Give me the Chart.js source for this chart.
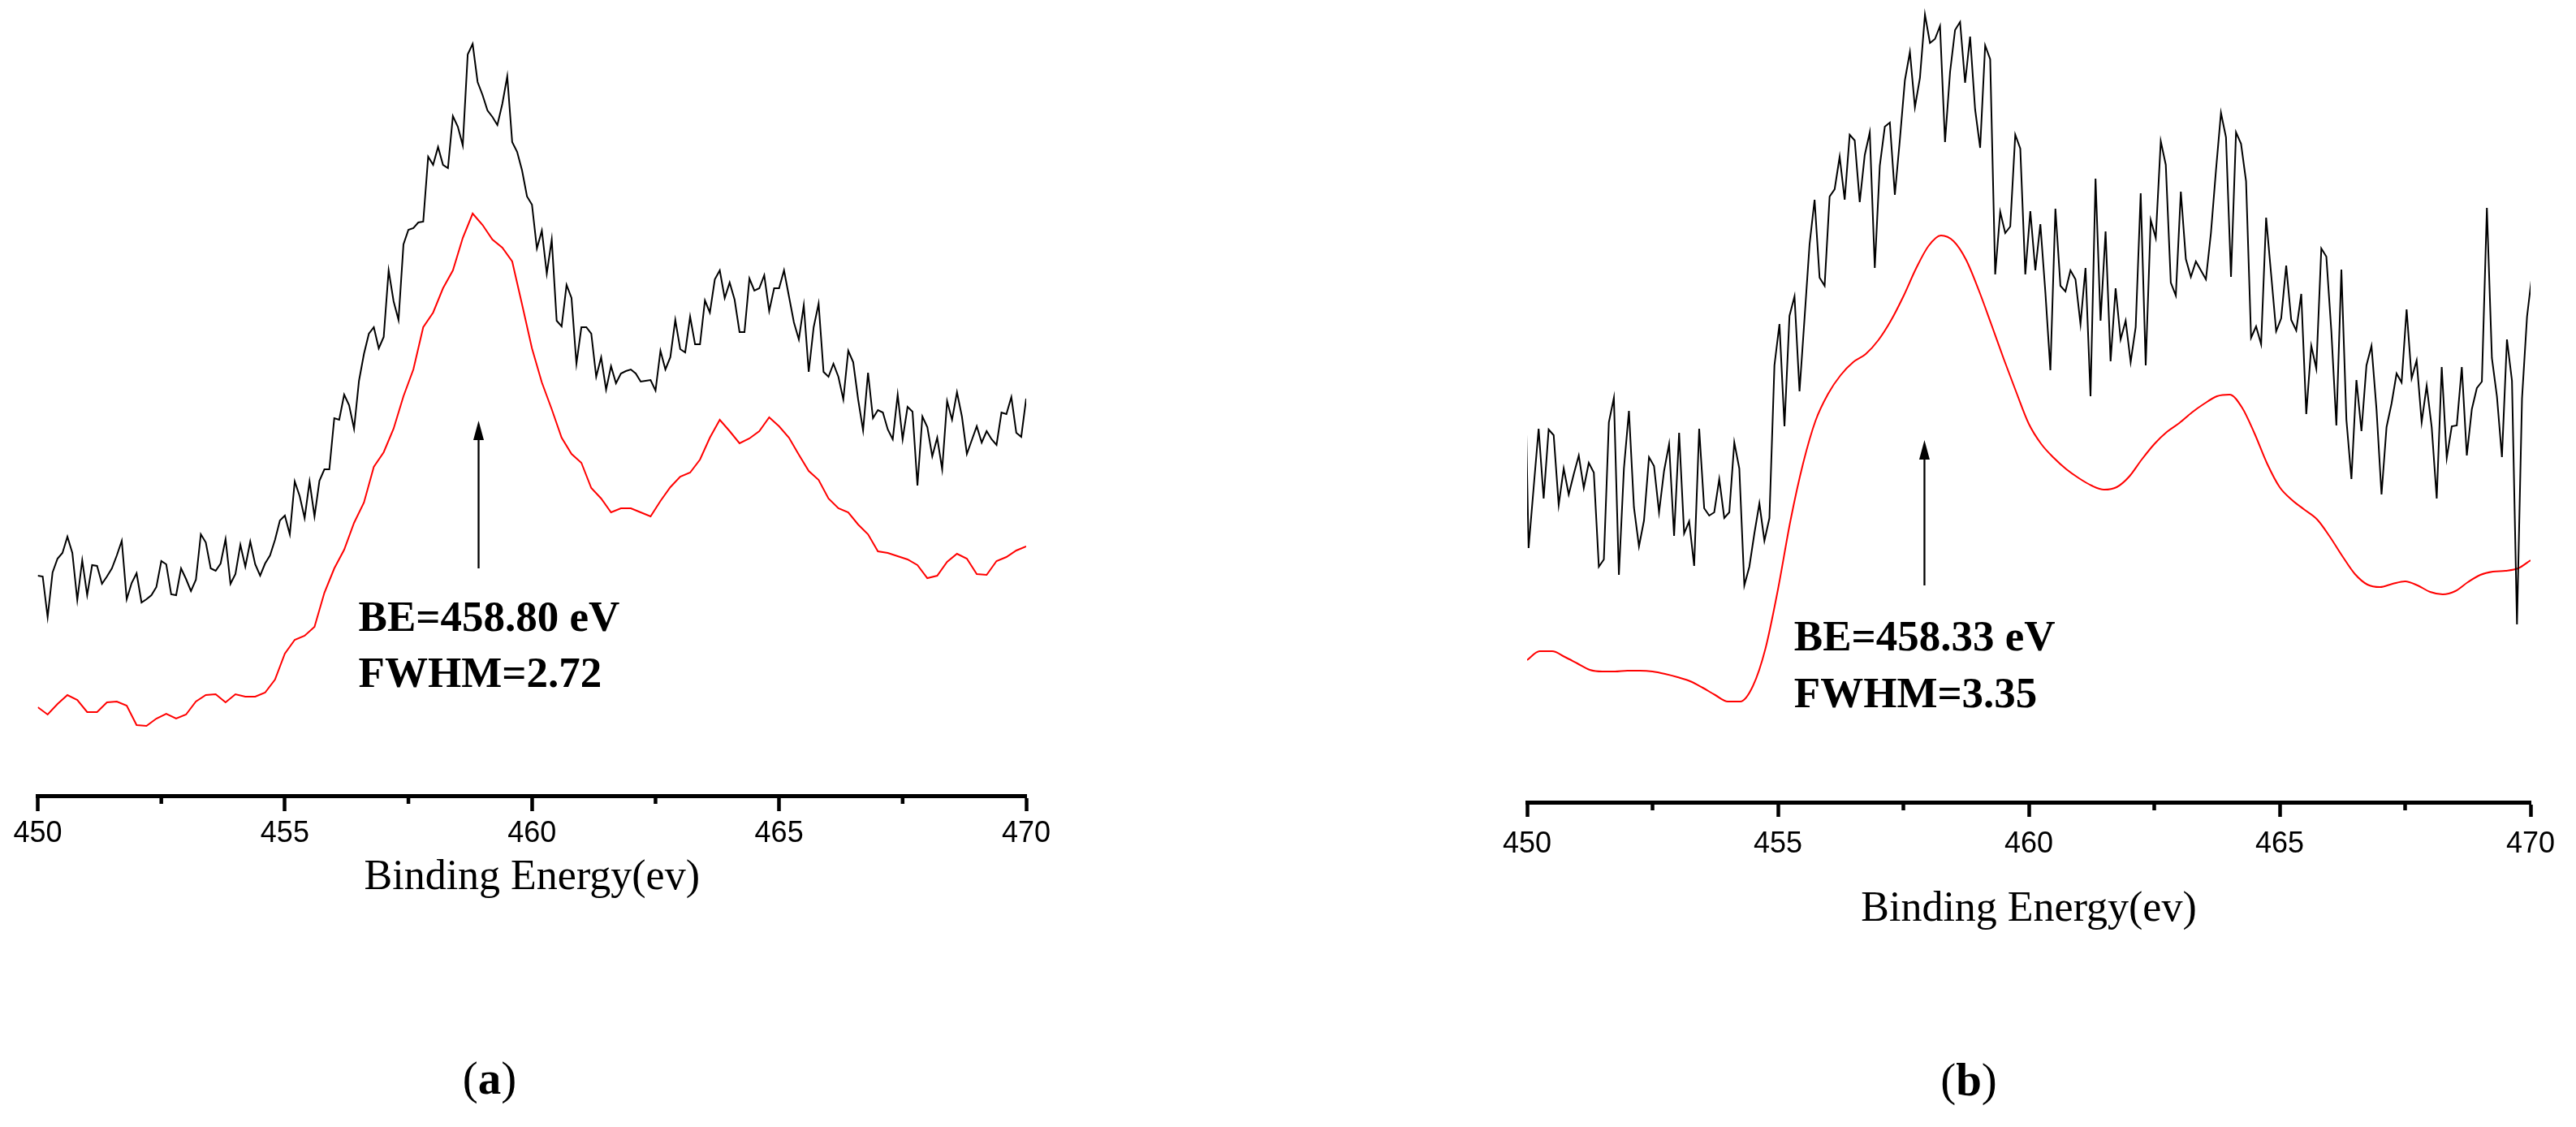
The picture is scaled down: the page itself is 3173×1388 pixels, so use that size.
<!DOCTYPE html>
<html>
<head>
<meta charset="utf-8">
<script src="https://cdn.jsdelivr.net/npm/chart.js@4.4.1/dist/chart.umd.min.js"></script>
<style>
  body { margin: 0; background: #fff; width: 3173px; height: 1388px; position: relative; overflow: hidden; }
  canvas { position: absolute; top: 0; }
  #chartA { left: 0; }
  #chartB { left: 1800px; }
  .panel-label { position: absolute; font-family: "Liberation Serif", serif; font-size: 57px; line-height: 1; transform: translate(-50%, -50%); color: #000; }
</style>
</head>
<body>
<canvas id="chartA" width="1330" height="1130"></canvas>
<canvas id="chartB" width="1373" height="1172"></canvas>
<div class="panel-label" style="left:603px; top:1327px;">(<b>a</b>)</div>
<div class="panel-label" style="left:2425px; top:1329px;">(<b>b</b>)</div>
<script>
// x axis
const tickValues = [450, 455, 460, 465, 470];
const minorTicks = [452.5, 457.5, 462.5, 467.5];

// intensities in a.u. (height above the axis)
// (a) raw spectrum, 450.0 -> 470.0 eV, 0.1 eV step
const rawAStart = 450.0, rawAStep = 0.1;
const rawA = [
  271,270,220,275,292,299,319,299,241,290,
  247,284,283,261,270,280,296,314,242,262,
  274,238,242,247,257,289,285,248,247,280,
  267,252,266,322,312,280,277,286,316,261,
  273,309,282,313,285,271,286,296,315,339,
  345,322,387,369,342,387,344,388,402,402,
  465,463,494,481,452,511,544,569,577,
  551,565,647,609,586,679,697,699,706,707,
  787,777,799,777,773,837,824,801,913,926,
  879,863,844,836,826,852,886,805,793,770,
  738,728,674,696,643,685,585,578,629,613,
  532,577,577,569,516,540,500,529,508,520,
  523,525,520,510,511,512,499,548,525,540,
  586,550,546,590,556,556,610,
  595,636,647,613,632,611,571,571,637,622,
  625,641,597,625,625,647,615,583,562,604,
  522,577,606,522,516,532,516,488,548,534,
  488,450,521,465,475,472,451,439,494,439,
  479,473,382,467,454,418,441,402,486,463,
  497,467,421,438,455,435,449,439,432,472,
  470,491,447,442,489
];
// (a) smoothed spectrum, 0.2 eV step
const smoothAStart = 450.0, smoothAStep = 0.2;
const smoothA = [
  109,100,113,124,118,103,103,115,116,111,
  87,86,95,101,95,100,116,124,125,115,
  125,122,122,127,143,175,192,197,208,250,
  280,303,336,361,
  405,423,452,492,525,577,595,625,647,687,
  717,703,685,675,658,605,551,509,476,441,
  421,410,379,366,349,354,354,349,344,363,
  380,393,398,414,
  441,463,449,434,440,449,466,455,441,420,
  400,389,366,354,349,334,322,301,299,295,
  291,284,268,271,288,298,292,273,272,289,
  294,302,307
];

// (b) raw spectrum, 449.93 -> 470.03 eV, 0.1 eV step
const rawBStart = 449.93, rawBStep = 0.1;
const rawB = [
  617,
  313,387,460,374,459,452,366,411,379,404,
  427,387,418,406,290,299,468,498,280,411,
  482,363,315,347,425,414,357,408,441,328,
  455,331,346,291,460,362,353,357,398,350,
  357,443,411,267,290,331,368,322,350,538,
  589,463,599,623,506,596,687,742,646,636,
  746,755,795,742,822,815,739,797,825,658,
  784,832,837,748,816,889,924,856,892,970,
  935,940,956,813,899,951,961,886,943,853,
  806,932,915,650,727,701,709,822,805,650,
  728,655,712,628,532,731,636,629,655,644,
  589,658,500,768,593,703,543,633,570,593,
  542,585,750,538,717,695,814,785,640,624,
  752,669,647,666,655,644,701,778,849,819,
  647,825,811,765,572,586,564,720,650,580,
  596,661,594,581,626,478,562,534,682,672,
  580,464,656,471,398,520,457,538,562,484,
  379,462,491,528,517,607,522,544,468,513,
  462,374,536,424,463,464,536,427,484,510,
  518,732,547,500,425,570,519,219,497,598,
  650
];
// (b) smoothed spectrum, 0.25 eV step
const smoothBStart = 450.0, smoothBStep = 0.25;
const smoothB = [
  175,186,186,179,171,163,161,161,162,162,
  161,158,154,149,141,132,124,124,143,189,
  262,347,417,470,503,526,542,552,569,593,
  623,657,685,698,691,668,631,589,546,505,
  466,441,424,410,399,390,385,388,401,422,
  441,456,467,480,491,500,502,486,454,417,
  388,372,360,348,327,303,281,268,265,269,
  272,267,259,256,260,271,280,284,285,288,
  298
];

const notesA = { be: 'BE=458.80 eV', fwhm: 'FWHM=2.72' };
const notesB = { be: 'BE=458.33 eV', fwhm: 'FWHM=3.35' };

function toPoints(start, step, values) {
  return values.map((v, i) => ({ x: +(start + i * step).toFixed(3), y: v }));
}

// arrow, annotation text and minor ticks
const xpsNotes = {
  id: 'xpsNotes',
  afterDraw(chart, args, opts) {
    const { ctx, chartArea, scales } = chart;
    const x = scales.x, y = scales.y;
    ctx.save();
    ctx.strokeStyle = '#000';
    ctx.fillStyle = '#000';

    ctx.lineWidth = 4.5;
    opts.minor.forEach(v => {
      const px = x.getPixelForValue(v);
      ctx.beginPath();
      ctx.moveTo(px, chartArea.bottom);
      ctx.lineTo(px, chartArea.bottom + opts.minorLength);
      ctx.stroke();
    });

    const ax = x.getPixelForValue(opts.arrow.x);
    const yBottom = y.getPixelForValue(opts.arrow.from);
    const yTip = y.getPixelForValue(opts.arrow.to);
    ctx.lineWidth = 2.3;
    ctx.beginPath();
    ctx.moveTo(ax, yBottom);
    ctx.lineTo(ax, yTip + 20);
    ctx.stroke();
    ctx.beginPath();
    ctx.moveTo(ax, yTip);
    ctx.lineTo(ax - 6.5, yTip + 24);
    ctx.lineTo(ax + 6.5, yTip + 24);
    ctx.closePath();
    ctx.fill();

    ctx.font = 'bold 53px "Liberation Serif", "Times New Roman", serif';
    ctx.textAlign = 'left';
    ctx.textBaseline = 'alphabetic';
    const tx = x.getPixelForValue(opts.textX);
    opts.lines.forEach(l => ctx.fillText(l.text, tx, y.getPixelForValue(l.y)));
    ctx.restore();
  }
};

function makeChart(id, p) {
  return new Chart(document.getElementById(id), {
    type: 'line',
    data: {
      datasets: [
        {
          data: p.raw,
          borderColor: '#000000',
          borderWidth: 2,
          pointRadius: 0,
          tension: 0,
          fill: false
        },
        {
          data: p.smooth,
          borderColor: '#ff0000',
          borderWidth: 2,
          pointRadius: 0,
          tension: 0,
          cubicInterpolationMode: p.smoothMode,
          fill: false
        }
      ]
    },
    options: {
      responsive: false,
      animation: false,
      devicePixelRatio: 1,
      layout: { padding: p.padding },
      plugins: {
        legend: { display: false },
        tooltip: { enabled: false },
        xpsNotes: p.notes
      },
      scales: {
        x: {
          type: 'linear',
          min: 450,
          max: 470,
          afterBuildTicks: s => { s.ticks = tickValues.map(v => ({ value: v })); },
          afterFit: s => { s.height = p.axisHeight; },
          border: { display: true, width: 5, color: '#000' },
          grid: {
            display: true,
            drawOnChartArea: false,
            drawTicks: true,
            tickLength: p.tickLength,
            tickWidth: 4.5,
            tickColor: '#000'
          },
          ticks: {
            autoSkip: false,
            maxRotation: 0,
            color: '#000',
            padding: p.labelPadding,
            font: { family: '"Liberation Sans", Arial, sans-serif', size: 36 },
            callback: v => String(v)
          },
          title: {
            display: true,
            text: 'Binding Energy(ev)',
            color: '#000',
            padding: { top: 0, bottom: 0 },
            font: { family: '"Liberation Serif", "Times New Roman", serif', size: 52, lineHeight: 1 }
          }
        },
        y: { display: false, min: 0, max: p.yMax }
      }
    },
    plugins: [xpsNotes]
  });
}

makeChart('chartA', {
  raw: toPoints(rawAStart, rawAStep, rawA),
  smooth: toPoints(smoothAStart, smoothAStep, smoothA),
  smoothMode: 'default',
  padding: { left: 46.5, right: 66, top: 0, bottom: 23 },
  axisHeight: 127,
  tickLength: 19,
  labelPadding: 6,
  yMax: 980,
  notes: {
    minor: minorTicks,
    minorLength: 10,
    arrow: { x: 458.92, from: 280, to: 462 },
    textX: 456.49,
    lines: [{ text: notesA.be, y: 203 }, { text: notesA.fwhm, y: 134 }]
  }
});

makeChart('chartB', {
  raw: toPoints(rawBStart, rawBStep, rawB),
  smooth: toPoints(smoothBStart, smoothBStep, smoothB),
  smoothMode: 'monotone',
  padding: { left: 81, right: 56, top: 0, bottom: 26 },
  axisHeight: 158,
  tickLength: 18,
  labelPadding: 12,
  yMax: 988,
  notes: {
    minor: minorTicks,
    minorLength: 10,
    arrow: { x: 457.92, from: 267, to: 446 },
    textX: 455.32,
    lines: [{ text: notesB.be, y: 187 }, { text: notesB.fwhm, y: 117 }]
  }
});
</script>
</body>
</html>
